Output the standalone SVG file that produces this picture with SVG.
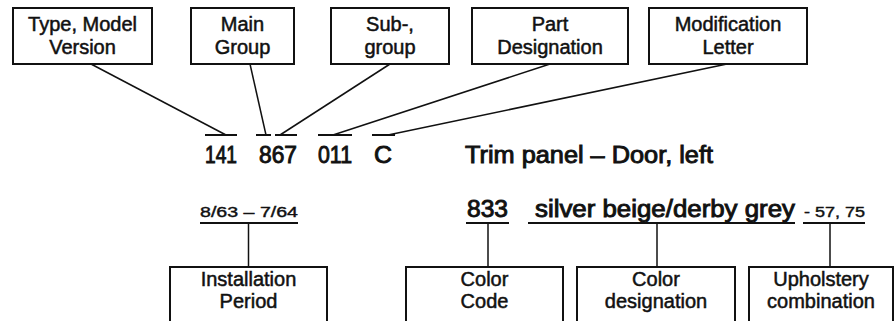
<svg xmlns="http://www.w3.org/2000/svg" width="894" height="321" viewBox="0 0 894 321">
<style>
.box{fill:#fff;stroke:#111;stroke-width:2}
.lbl{font-family:"Liberation Sans",Arial,sans-serif;font-size:20px;fill:#111;stroke:#111;stroke-width:0.5;text-anchor:middle}
.code{font-family:"Liberation Sans",Arial,sans-serif;font-size:23px;fill:#111;stroke:#111;stroke-width:0.9}
.small{font-family:"Liberation Sans Narrow","Liberation Sans",Arial,sans-serif;font-size:14px;fill:#111;stroke:#111;stroke-width:0.4}
.ln{stroke:#111;stroke-width:1.5;fill:none}
.ul{stroke:#111;stroke-width:2;fill:none}
</style>
<rect width="894" height="321" fill="#fff"/>
<g id="type-model">
<rect class="box" x="13" y="8" width="139" height="56"/>
<text class="lbl" x="82.5" y="31">Type, Model</text>
<text class="lbl" x="82.5" y="54">Version</text>
</g>
<g id="main-group">
<rect class="box" x="191" y="8" width="103" height="56"/>
<text class="lbl" x="242.5" y="31">Main</text>
<text class="lbl" x="242.5" y="54">Group</text>
</g>
<g id="sub-group">
<rect class="box" x="331" y="8" width="118" height="56"/>
<text class="lbl" x="390" y="31">Sub-,</text>
<text class="lbl" x="390" y="54">group</text>
</g>
<g id="part-designation">
<rect class="box" x="472" y="8" width="156" height="56"/>
<text class="lbl" x="550" y="31">Part</text>
<text class="lbl" x="550" y="54">Designation</text>
</g>
<g id="modification-letter">
<rect class="box" x="649" y="8" width="158" height="56"/>
<text class="lbl" x="728" y="31">Modification</text>
<text class="lbl" x="728" y="54">Letter</text>
</g>
<g id="part-number">
<text class="code" x="205" y="163" textLength="32" lengthAdjust="spacingAndGlyphs">141</text>
<text class="code" x="259" y="163" textLength="38" lengthAdjust="spacingAndGlyphs">867</text>
<text class="code" x="318" y="163" textLength="34" lengthAdjust="spacingAndGlyphs">011</text>
<text class="code" x="374" y="163" textLength="18" lengthAdjust="spacingAndGlyphs">C</text>
<text class="code" x="465" y="163" textLength="248" lengthAdjust="spacingAndGlyphs">Trim panel – Door, left</text>
</g>
<g id="period-value">
<text class="small" x="200" y="217" textLength="98" lengthAdjust="spacingAndGlyphs">8/63 –  7/64</text>
</g>
<g id="color-values">
<text class="code" x="467" y="217" textLength="41" lengthAdjust="spacingAndGlyphs">833</text>
<text class="code" x="535" y="217" textLength="260" lengthAdjust="spacingAndGlyphs">silver beige/derby grey</text>
<text class="small" x="804" y="217" textLength="61" lengthAdjust="spacingAndGlyphs">- 57, 75</text>
</g>
<g id="installation-period">
<rect class="box" x="170" y="267" width="157" height="70"/>
<text class="lbl" x="248.5" y="286">Installation</text>
<text class="lbl" x="248.5" y="308">Period</text>
</g>
<g id="color-code">
<rect class="box" x="406" y="267" width="157" height="70"/>
<text class="lbl" x="484.5" y="286">Color</text>
<text class="lbl" x="484.5" y="308">Code</text>
</g>
<g id="color-designation">
<rect class="box" x="577" y="267" width="158" height="70"/>
<text class="lbl" x="656" y="286">Color</text>
<text class="lbl" x="656" y="308">designation</text>
</g>
<g id="upholstery-combination">
<rect class="box" x="749" y="267" width="144" height="70"/>
<text class="lbl" x="821" y="286">Upholstery</text>
<text class="lbl" x="821" y="308">combination</text>
</g>
<g id="connectors">
<line class="ln" x1="91" y1="64" x2="226" y2="135"/>
<line class="ln" x1="250" y1="64" x2="266" y2="135"/>
<line class="ln" x1="390" y1="64" x2="280" y2="135"/>
<line class="ln" x1="550" y1="64" x2="333" y2="135"/>
<line class="ln" x1="727" y1="64" x2="388" y2="135"/>
<line class="ul" x1="205" y1="135" x2="237" y2="135"/>
<line class="ul" x1="256" y1="135" x2="271" y2="135"/>
<line class="ul" x1="275" y1="135" x2="297" y2="135"/>
<line class="ul" x1="318" y1="135" x2="352" y2="135"/>
<line class="ul" x1="372" y1="135" x2="395" y2="135"/>
<line class="ul" x1="200" y1="223" x2="298" y2="223"/>
<line class="ul" x1="466" y1="223" x2="509" y2="223"/>
<line class="ul" x1="528" y1="223" x2="795" y2="223"/>
<line class="ul" x1="803" y1="223" x2="865" y2="223"/>
<line class="ln" x1="248.5" y1="223" x2="248.5" y2="267"/>
<line class="ln" x1="488" y1="223" x2="488" y2="267"/>
<line class="ln" x1="657" y1="223" x2="657" y2="267"/>
<line class="ln" x1="830" y1="223" x2="830" y2="267"/>
</g>
</svg>
